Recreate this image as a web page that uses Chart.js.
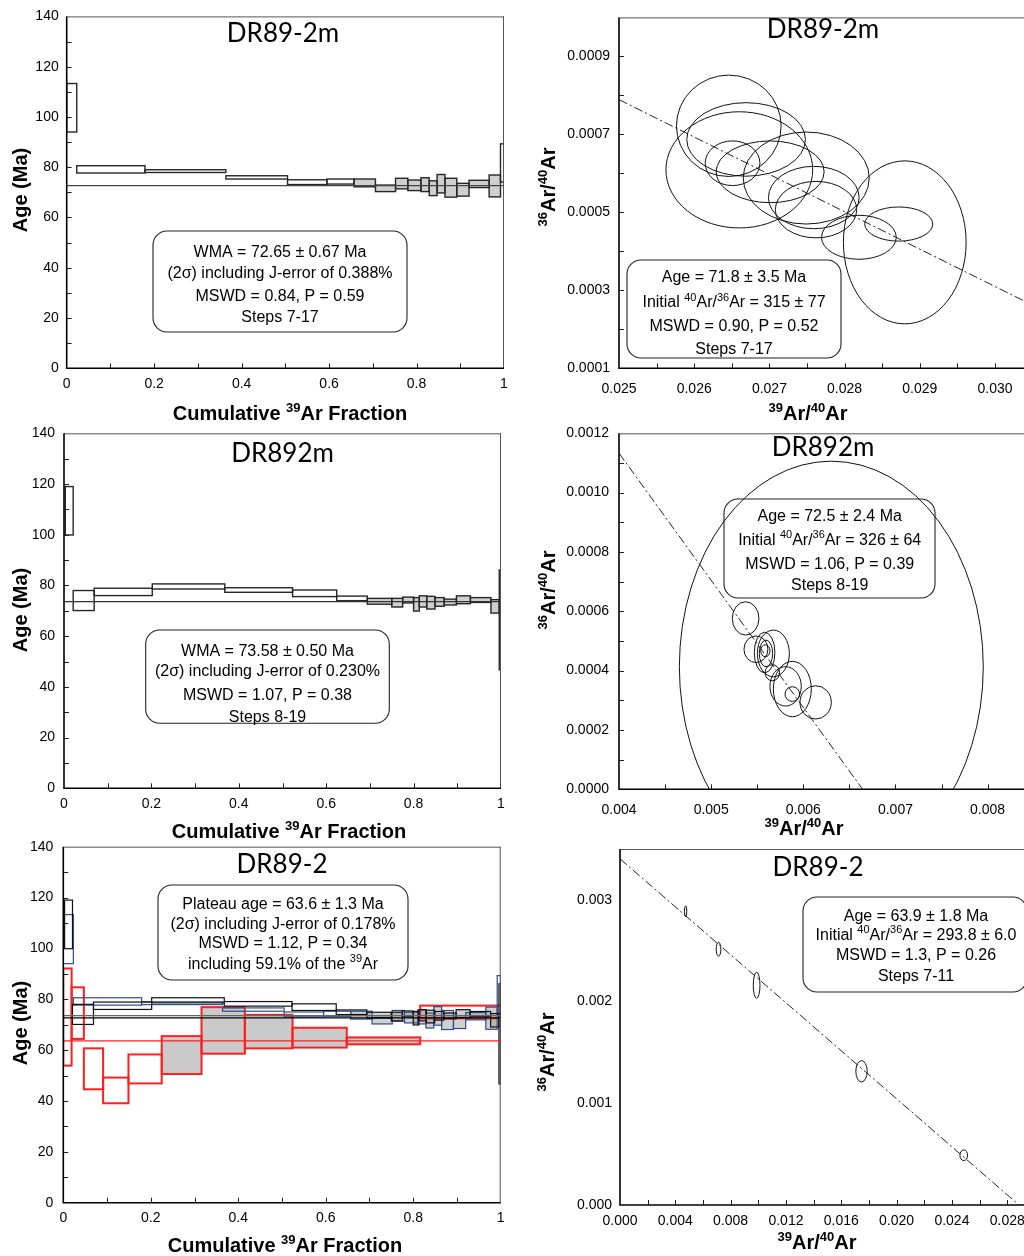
<!DOCTYPE html>
<html>
<head>
<meta charset="utf-8">
<script src="https://cdn.jsdelivr.net/npm/chart.js@4.4.1/dist/chart.umd.min.js"></script>
<style>
  html, body { margin: 0; padding: 0; background: #fff; width: 1024px; height: 1256px; overflow: hidden; }
  canvas { position: absolute; left: 0; top: 0; }
</style>
</head>
<body>
<canvas id="p1" width="1100" height="1256"></canvas>
<canvas id="p2" width="1100" height="1256"></canvas>
<canvas id="p3" width="1100" height="1256"></canvas>
<canvas id="p4" width="1100" height="1256"></canvas>
<canvas id="p5" width="1100" height="1256"></canvas>
<canvas id="p6" width="1100" height="1256"></canvas>
<script>
// ---------- DR89-2m : step-heating spectrum (cumulative 39Ar boundaries, 2σ age limits, Ma) ----------
const dr89_2m_cum   = [0, 0.023, 0.179, 0.364, 0.505, 0.595, 0.657, 0.706, 0.752, 0.780, 0.810, 0.829, 0.847, 0.865, 0.892, 0.920, 0.966, 0.992, 1.000];
const dr89_2m_ageLo = [94.0, 77.7, 77.9, 75.3, 73.1, 73.3, 72.2, 70.3, 71.4, 70.7, 70.3, 68.7, 69.8, 68.1, 68.5, 71.9, 68.2, 74.1];
const dr89_2m_ageHi = [113.3, 80.6, 79.0, 76.6, 75.0, 75.3, 75.3, 72.9, 75.6, 74.9, 75.8, 74.6, 77.1, 75.6, 73.6, 74.8, 76.9, 89.3];
const dr89_2m_plateau = [7, 17];
const dr89_2m_wma = 72.65;

// ---------- DR892m : step-heating spectrum ----------
const dr892m_cum   = [0.003, 0.021, 0.069, 0.202, 0.368, 0.523, 0.624, 0.694, 0.750, 0.775, 0.800, 0.813, 0.830, 0.849, 0.870, 0.898, 0.930, 0.977, 0.996, 1.000];
const dr892m_ageLo = [99.9, 70.1, 76.0, 78.6, 77.3, 75.6, 74.0, 72.6, 71.5, 73.1, 69.9, 71.5, 70.7, 71.8, 72.3, 72.8, 73.3, 69.1, 46.7];
const dr892m_ageHi = [119.0, 78.0, 78.9, 80.6, 79.1, 78.2, 75.8, 74.9, 74.9, 75.4, 75.2, 75.9, 75.7, 75.2, 74.6, 75.9, 75.2, 74.4, 86.1];
const dr892m_plateau = [8, 19];
const dr892m_wma = 73.58;

// ---------- DR89-2 : step-heating spectrum ----------
const dr89_2_cum   = [0, 0.019, 0.047, 0.091, 0.149, 0.225, 0.316, 0.415, 0.524, 0.648, 0.816, 1.000];
const dr89_2_ageLo = [53.9, 64.4, 44.6, 39.1, 46.9, 50.6, 58.6, 60.7, 61.0, 62.3, 72.5];
const dr89_2_ageHi = [92.1, 84.7, 60.7, 49.2, 58.3, 65.5, 76.9, 73.9, 68.8, 65.0, 77.5];
const dr89_2_plateau = [6, 10];
const dr89_2_plateauAge = 63.6;

// ---------- inverse isochrons: ellipse centres and half-axes ----------
const iso_dr89_2m_x  = [0.02646, 0.02669, 0.02660, 0.02651, 0.02701, 0.02749, 0.02759, 0.02762, 0.02819, 0.02872, 0.02880];
const iso_dr89_2m_y  = [0.000722, 0.000687, 0.000609, 0.000626, 0.000604, 0.000588, 0.000538, 0.000507, 0.000436, 0.000470, 0.000423];
const iso_dr89_2m_sx = [0.000696, 0.000789, 0.000976, 0.000364, 0.000718, 0.000838, 0.000603, 0.000541, 0.000497, 0.000452, 0.000816];
const iso_dr89_2m_sy = [0.000130, 0.0000943, 0.000149, 0.0000573, 0.0000792, 0.000118, 0.0000800, 0.0000724, 0.0000564, 0.0000438, 0.000209];
const iso_dr89_2m_lineX = [0.025, 0.031];
const iso_dr89_2m_lineY = [0.000789, 0.000214];

const iso_dr892m_x  = [0.006304, 0.005374, 0.005486, 0.005580, 0.005595, 0.005588, 0.005675, 0.005664, 0.005808, 0.005881, 0.005881, 0.006134];
const iso_dr892m_y  = [0.000413, 0.000576, 0.000472, 0.000461, 0.000458, 0.000467, 0.000458, 0.000393, 0.000347, 0.000338, 0.000321, 0.000293];
const iso_dr892m_sx = [0.001649, 0.0001447, 0.000130, 0.000112, 0.0000723, 0.0000506, 0.0001736, 0.0000796, 0.000170, 0.000206, 0.0000796, 0.000170];
const iso_dr892m_sy = [0.000693, 0.0000562, 0.0000449, 0.0000685, 0.0000449, 0.0000202, 0.0000787, 0.0000270, 0.0000663, 0.0000933, 0.0000247, 0.0000562];
const iso_dr892m_lineX = [0.004, 0.006644];
const iso_dr892m_lineY = [0.001133, 0];

const iso_dr89_2_x  = [0.004746, 0.007126, 0.009879, 0.017464, 0.024855];
const iso_dr89_2_y  = [0.002889, 0.002515, 0.002161, 0.001315, 0.000489];
const iso_dr89_2_sx = [0.0000845, 0.000169, 0.000242, 0.000411, 0.000278];
const iso_dr89_2_sy = [0.0000525, 0.0000689, 0.000128, 0.000105, 0.0000525];
const iso_dr89_2_lineX = [0, 0.02885];
const iso_dr89_2_lineY = [0.003404, 0];

// ---------- tick labels ----------
const ageTicks  = [0, 20, 40, 60, 80, 100, 120, 140];
const fracTicks = [0, 0.2, 0.4, 0.6, 0.8, 1];
const iso1XTicks = [0.025, 0.026, 0.027, 0.028, 0.029, 0.030];
const iso1YTicks = [0.0001, 0.0003, 0.0005, 0.0007, 0.0009];
const iso2XTicks = [0.004, 0.005, 0.006, 0.007, 0.008];
const iso2YTicks = [0.0000, 0.0002, 0.0004, 0.0006, 0.0008, 0.0010, 0.0012];
const iso3XTicks = [0.000, 0.004, 0.008, 0.012, 0.016, 0.020, 0.024, 0.028];
const iso3YTicks = [0.000, 0.001, 0.002, 0.003];

// ---------- drawing helpers ----------
const SANS = '"Liberation Sans", Arial, Helvetica, sans-serif';
const TITLE_FAMILY = 'Lato, "Open Sans", sans-serif';

function parseRich(s) {
  return s.split('^').map((t, i) => ({ t, sup: i % 2 === 1 })).filter(g => g.t.length);
}

// text with ^superscript^ runs, centred on (cx, cy)
function drawRich(ctx, s, cx, cy, o) {
  const segs = parseRich(s);
  const w = o.bold ? 'bold ' : '';
  const fam = o.family || SANS;
  const fb = `${w}${o.size}px ${fam}`;
  const fs = `${w}${o.supSize || Math.round(o.size * 0.65)}px ${fam}`;
  ctx.save();
  ctx.translate(cx, cy);
  if (o.rotate) ctx.rotate(-Math.PI / 2);
  let total = 0;
  const widths = segs.map(g => { ctx.font = g.sup ? fs : fb; const m = ctx.measureText(g.t).width; total += m; return m; });
  let xx = -total / 2;
  const base = o.size * 0.36;
  ctx.fillStyle = o.color || '#000';
  ctx.textAlign = 'left';
  ctx.textBaseline = 'alphabetic';
  segs.forEach((g, i) => {
    ctx.font = g.sup ? fs : fb;
    ctx.fillText(g.t, xx, g.sup ? base - o.size * 0.42 : base);
    xx += widths[i];
  });
  ctx.restore();
}

function spectrumBoxes(chart, sp, pass) {
  const { ctx, scales: { x, y } } = chart;
  const n = sp.lo.length;
  for (let i = 0; i < n; i++) {
    const x0 = x.getPixelForValue(sp.cum[i]), x1 = x.getPixelForValue(sp.cum[i + 1]);
    const y0 = y.getPixelForValue(sp.hi[i]), y1 = y.getPixelForValue(sp.lo[i]);
    const inPlateau = (i + 1) >= sp.plateau[0] && (i + 1) <= sp.plateau[1];
    if (pass === 'fill' && inPlateau) {
      ctx.fillStyle = sp.fill;
      ctx.fillRect(x0, y0, x1 - x0, y1 - y0);
    }
    if (pass === 'stroke') {
      ctx.strokeStyle = sp.stroke;
      ctx.lineWidth = sp.width;
      ctx.strokeRect(x0, y0, x1 - x0, y1 - y0);
    }
  }
}

const panelPlugin = {
  id: 'panel',
  beforeDatasetsDraw(chart, args, opts) {
    const { ctx, chartArea: a } = chart;
    ctx.save();
    ctx.beginPath();
    ctx.rect(a.left, a.top, a.right - a.left, a.bottom - a.top);
    ctx.clip();
    (opts.spectra || []).forEach(sp => spectrumBoxes(chart, sp, 'fill'));
    (opts.spectra || []).forEach(sp => spectrumBoxes(chart, sp, 'stroke'));
    if (opts.ellipses) {
      const e = opts.ellipses, { x, y } = chart.scales;
      ctx.strokeStyle = '#111';
      ctx.lineWidth = 1;
      for (let i = 0; i < e.x.length; i++) {
        const px = x.getPixelForValue(e.x[i]), py = y.getPixelForValue(e.y[i]);
        const rx = Math.abs(x.getPixelForValue(e.x[i] + e.sx[i]) - px);
        const ry = Math.abs(y.getPixelForValue(e.y[i] + e.sy[i]) - py);
        ctx.beginPath();
        ctx.ellipse(px, py, rx, ry, 0, 0, Math.PI * 2);
        ctx.stroke();
      }
    }
    ctx.restore();
  },
  afterDraw(chart, args, opts) {
    const { ctx, chartArea: a, scales: { x, y } } = chart;
    ctx.save();
    // frame
    ctx.strokeStyle = '#555';
    ctx.lineWidth = 1;
    ctx.beginPath();
    ctx.moveTo(a.left, a.top + 0.5); ctx.lineTo(a.right, a.top + 0.5);
    if (opts.rightBorder) { ctx.moveTo(a.right - 0.5, a.top); ctx.lineTo(a.right - 0.5, a.bottom); }
    ctx.stroke();
    // tick marks (inside)
    ctx.strokeStyle = '#222';
    ctx.beginPath();
    const tl = 5;
    const xm = opts.xMinor, ym = opts.yMinor;
    if (xm) {
      const n = Math.round((x.max - x.min) / xm);
      for (let k = 1; k < n; k++) {
        const px = Math.round(x.getPixelForValue(x.min + k * xm)) + 0.5;
        ctx.moveTo(px, a.bottom); ctx.lineTo(px, a.bottom - tl);
      }
    }
    if (ym) {
      const n = Math.round((y.max - y.min) / ym);
      for (let k = 1; k < n; k++) {
        const py = Math.round(y.getPixelForValue(y.min + k * ym)) + 0.5;
        ctx.moveTo(a.left, py); ctx.lineTo(a.left + tl, py);
      }
    }
    ctx.stroke();
    // axes
    ctx.strokeStyle = '#000';
    ctx.lineWidth = 1.6;
    ctx.beginPath();
    ctx.moveTo(a.left, a.top); ctx.lineTo(a.left, a.bottom); ctx.lineTo(a.right, a.bottom);
    ctx.stroke();
    // sample title
    const t = opts.title;
    drawRich(ctx, t.text, t.x, t.y, { size: 26, family: TITLE_FAMILY });
    // statistics box
    const b = opts.box;
    ctx.strokeStyle = '#222';
    ctx.lineWidth = 1.1;
    ctx.beginPath();
    ctx.roundRect(b.l, b.t, b.r - b.l, b.b - b.t, 14);
    ctx.stroke();
    b.lines.forEach((s, i) => drawRich(ctx, s, b.cx, b.ys[i], { size: 16, supSize: 11 }));
    // axis titles
    drawRich(ctx, opts.xTitle.text, opts.xTitle.x, opts.xTitle.y, { size: 20, supSize: 13, bold: true });
    drawRich(ctx, opts.yTitle.text, opts.yTitle.x, opts.yTitle.y, { size: 20, supSize: 13, bold: true, rotate: true });
    ctx.restore();
  }
};

function lineDataset(xs, ys, color, width, dash) {
  return {
    data: xs.map((v, i) => ({ x: v, y: ys[i] })),
    showLine: true, borderColor: color, borderWidth: width, borderDash: dash || [],
    pointRadius: 0, fill: false
  };
}

function makePanel(id, p) {
  const W = 1100, H = 1256, YW = 60, XH = 30;
  const tickFont = { family: SANS, size: 14 };
  new Chart(document.getElementById(id), {
    type: 'scatter',
    data: { datasets: p.datasets },
    options: {
      responsive: false, animation: false, events: [],
      layout: { padding: { left: p.area.l - YW, right: W - p.area.r, top: p.area.t, bottom: H - p.area.b - XH } },
      scales: {
        x: {
          type: 'linear', min: p.x.min, max: p.x.max,
          afterFit: s => { s.height = XH; },
          afterBuildTicks: s => { s.ticks = p.x.ticks.map(v => ({ value: v })); },
          ticks: { callback: p.x.fmt, font: tickFont, color: '#000', padding: p.x.pad, maxRotation: 0, autoSkip: false },
          grid: { display: false, drawTicks: false }, border: { display: false }
        },
        y: {
          type: 'linear', min: p.y.min, max: p.y.max,
          afterFit: s => { s.width = YW; },
          afterBuildTicks: s => { s.ticks = p.y.ticks.map(v => ({ value: v })); },
          ticks: { callback: p.y.fmt, font: tickFont, color: '#000', padding: p.y.pad, autoSkip: false },
          grid: { display: false, drawTicks: false }, border: { display: false }
        }
      },
      plugins: { legend: { display: false }, tooltip: { enabled: false }, panel: p.panel }
    },
    plugins: [panelPlugin]
  });
}

const fracFmt = v => (v === 0 ? '0' : v === 1 ? '1' : v.toFixed(1));
const ageFmt = v => String(v);
const f3 = v => v.toFixed(3), f4 = v => v.toFixed(4);

const specDR89_2m = { cum: dr89_2m_cum, lo: dr89_2m_ageLo, hi: dr89_2m_ageHi, plateau: dr89_2m_plateau };
const specDR892m  = { cum: dr892m_cum,  lo: dr892m_ageLo,  hi: dr892m_ageHi,  plateau: dr892m_plateau };
const specDR89_2  = { cum: dr89_2_cum,  lo: dr89_2_ageLo,  hi: dr89_2_ageHi,  plateau: dr89_2_plateau };

const cumTitle = 'Cumulative ^39^Ar Fraction';
const isoXTitle = '^39^Ar/^40^Ar';
const isoYTitle = '^36^Ar/^40^Ar';

// ----- DR89-2m age spectrum -----
makePanel('p1', {
  area: { l: 66.7, r: 504, t: 13.3, b: 368.3 },
  x: { min: 0, max: 1, ticks: fracTicks, fmt: fracFmt, pad: 7 },
  y: { min: 0, max: 140, ticks: ageTicks, fmt: ageFmt, pad: 8 },
  datasets: [lineDataset([0, 1], [dr89_2m_wma, dr89_2m_wma], '#444', 1.2)],
  panel: {
    spectra: [Object.assign({ fill: '#cfcfcf', stroke: '#262626', width: 1.4 }, specDR89_2m)],
    xMinor: 0.1, yMinor: 10, rightBorder: true,
    title: { text: 'DR89-2m', x: 283, y: 33 },
    box: { l: 153, t: 231, r: 407, b: 332, cx: 280,
      lines: ['WMA = 72.65 ± 0.67 Ma', '(2σ) including J-error of 0.388%', 'MSWD = 0.84, P = 0.59', 'Steps 7-17'],
      ys: [251.5, 272, 295, 316] },
    xTitle: { text: cumTitle, x: 290, y: 413 },
    yTitle: { text: 'Age (Ma)', x: 20, y: 190 }
  }
});

// ----- DR89-2m isochron -----
makePanel('p2', {
  area: { l: 619, r: 619 + 6 * 75.2, t: 12, b: 368.3 },
  x: { min: 0.025, max: 0.031, ticks: iso1XTicks, fmt: f3, pad: 12 },
  y: { min: 0.0001, max: 0.001, ticks: iso1YTicks, fmt: f4, pad: 9 },
  datasets: [lineDataset(iso_dr89_2m_lineX, iso_dr89_2m_lineY, '#222', 1, [9, 3, 2, 3])],
  panel: {
    ellipses: { x: iso_dr89_2m_x, y: iso_dr89_2m_y, sx: iso_dr89_2m_sx, sy: iso_dr89_2m_sy },
    xMinor: 0.0005, yMinor: 0.0001,
    title: { text: 'DR89-2m', x: 823, y: 28.5 },
    box: { l: 627, t: 260, r: 841, b: 358, cx: 734,
      lines: ['Age = 71.8 ± 3.5 Ma', 'Initial ^40^Ar/^36^Ar = 315 ± 77', 'MSWD = 0.90, P = 0.52', 'Steps 7-17'],
      ys: [276.5, 301.5, 325, 348] },
    xTitle: { text: isoXTitle, x: 808, y: 413 },
    yTitle: { text: isoYTitle, x: 548, y: 187 }
  }
});

// ----- DR892m age spectrum -----
makePanel('p3', {
  area: { l: 64, r: 501, t: 433.3, b: 788.3 },
  x: { min: 0, max: 1, ticks: fracTicks, fmt: fracFmt, pad: 7 },
  y: { min: 0, max: 140, ticks: ageTicks, fmt: ageFmt, pad: 9 },
  datasets: [lineDataset([0, 1], [dr892m_wma, dr892m_wma], '#333', 1.3)],
  panel: {
    spectra: [Object.assign({ fill: '#cfcfcf', stroke: '#262626', width: 1.4 }, specDR892m)],
    xMinor: 0.1, yMinor: 10, rightBorder: true,
    title: { text: 'DR892m', x: 282.5, y: 453 },
    box: { l: 145.7, t: 630, r: 389.3, b: 723.3, cx: 267.5,
      lines: ['WMA = 73.58 ± 0.50 Ma', '(2σ) including J-error of 0.230%', 'MSWD = 1.07, P = 0.38', 'Steps 8-19'],
      ys: [650, 670.5, 694, 716] },
    xTitle: { text: cumTitle, x: 289, y: 831 },
    yTitle: { text: 'Age (Ma)', x: 20, y: 610 }
  }
});

// ----- DR892m isochron -----
makePanel('p4', {
  area: { l: 619, r: 619 + 5 * 92.15, t: 433.3, b: 789.3 },
  x: { min: 0.004, max: 0.009, ticks: iso2XTicks, fmt: f3, pad: 12 },
  y: { min: 0, max: 0.0012, ticks: iso2YTicks, fmt: f4, pad: 10 },
  datasets: [lineDataset(iso_dr892m_lineX, iso_dr892m_lineY, '#222', 1, [9, 3, 2, 3])],
  panel: {
    ellipses: { x: iso_dr892m_x, y: iso_dr892m_y, sx: iso_dr892m_sx, sy: iso_dr892m_sy },
    xMinor: 0.0005, yMinor: 0.0001,
    title: { text: 'DR892m', x: 823, y: 447 },
    box: { l: 724, t: 499, r: 935, b: 598, cx: 829.7,
      lines: ['Age = 72.5 ± 2.4 Ma', 'Initial ^40^Ar/^36^Ar = 326 ± 64', 'MSWD = 1.06, P = 0.39', 'Steps 8-19'],
      ys: [515, 539, 563, 584] },
    xTitle: { text: isoXTitle, x: 804, y: 828 },
    yTitle: { text: isoYTitle, x: 548, y: 590 }
  }
});

// ----- DR89-2 age spectrum, overlaid on DR89-2m and DR892m -----
makePanel('p5', {
  area: { l: 63.3, r: 500.7, t: 846.7, b: 1202.7 },
  x: { min: 0, max: 1, ticks: fracTicks, fmt: fracFmt, pad: 7 },
  y: { min: 0, max: 140, ticks: ageTicks, fmt: ageFmt, pad: 10 },
  datasets: [
    lineDataset([0, 1], [dr892m_wma, dr892m_wma], '#666', 1.2),
    lineDataset([0, 1], [dr89_2m_wma, dr89_2m_wma], '#000', 1.2),
    lineDataset([0, 1], [dr89_2_plateauAge, dr89_2_plateauAge], '#ff2020', 1.3)
  ],
  panel: {
    spectra: [
      Object.assign({ fill: 'rgba(150,150,150,0.5)', stroke: '#ff1f1f', width: 2 }, specDR89_2),
      Object.assign({ fill: 'rgba(150,150,150,0.45)', stroke: '#2c4c8c', width: 1.2 }, specDR89_2m),
      Object.assign({ fill: 'rgba(150,150,150,0.45)', stroke: '#111', width: 1.2 }, specDR892m)
    ],
    xMinor: 0.1, yMinor: 10, rightBorder: true,
    title: { text: 'DR89-2', x: 282, y: 863.5 },
    box: { l: 158, t: 885, r: 408, b: 980, cx: 283,
      lines: ['Plateau age = 63.6 ± 1.3 Ma', '(2σ) including J-error of 0.178%', 'MSWD = 1.12, P = 0.34', 'including 59.1% of the ^39^Ar'],
      ys: [903, 923, 942, 963] },
    xTitle: { text: cumTitle, x: 285, y: 1245 },
    yTitle: { text: 'Age (Ma)', x: 20, y: 1023 }
  }
});

// ----- DR89-2 isochron -----
makePanel('p6', {
  area: { l: 620, r: 620 + 32 * 13.83, t: 1205 - 3.5 * 101.7, b: 1205 },
  x: { min: 0, max: 0.032, ticks: iso3XTicks, fmt: f3, pad: 8 },
  y: { min: 0, max: 0.0035, ticks: iso3YTicks, fmt: f3, pad: 8 },
  datasets: [lineDataset(iso_dr89_2_lineX, iso_dr89_2_lineY, '#222', 1, [9, 3, 2, 3])],
  panel: {
    ellipses: { x: iso_dr89_2_x, y: iso_dr89_2_y, sx: iso_dr89_2_sx, sy: iso_dr89_2_sy },
    xMinor: 0.002, yMinor: null,
    title: { text: 'DR89-2', x: 818, y: 867 },
    box: { l: 803, t: 897, r: 1027, b: 992, cx: 916,
      lines: ['Age = 63.9 ± 1.8 Ma', 'Initial ^40^Ar/^36^Ar = 293.8 ± 6.0', 'MSWD = 1.3, P = 0.26', 'Steps 7-11'],
      ys: [915, 934, 954, 975] },
    xTitle: { text: isoXTitle, x: 817, y: 1242 },
    yTitle: { text: isoYTitle, x: 547, y: 1052 }
  }
});
</script>
</body>
</html>
